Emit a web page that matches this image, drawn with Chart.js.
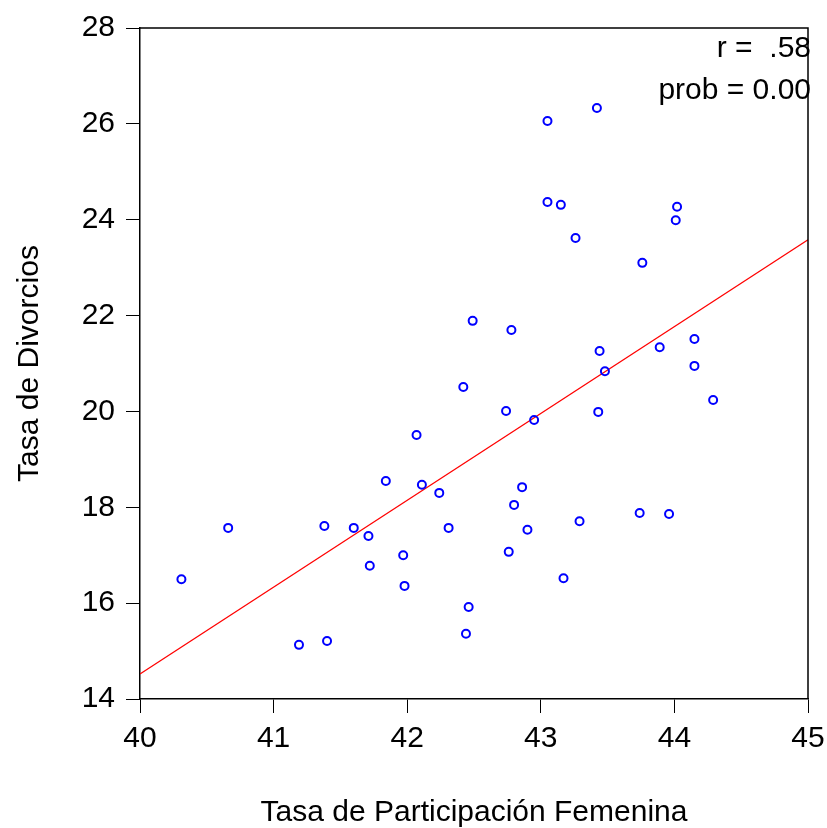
<!DOCTYPE html>
<html>
<head>
<meta charset="utf-8">
<script src="https://cdn.jsdelivr.net/npm/chart.js@4"></script>
<style>
  html, body { margin: 0; padding: 0; background: #fff; }
  #wrap { width: 827px; height: 828px; }
</style>
</head>
<body>
<div id="wrap"><canvas id="scatter" width="827" height="828"></canvas></div>
<script>
// participation rate (x) and divorce rate (y)
const participacion = [
  40.31, 40.66, 41.19, 41.38, 41.40, 41.60, 41.71, 41.72, 41.84, 41.97,
  41.98, 42.07, 42.11, 42.24, 42.31, 42.42, 42.44, 42.46, 42.49, 42.74,
  42.76, 42.78, 42.80, 42.86, 42.90, 42.95, 43.05, 43.05, 43.15, 43.17,
  43.26, 43.29, 43.42, 43.44, 43.43, 43.48, 43.74, 43.76, 43.89, 43.96,
  44.01, 44.02, 44.15, 44.15, 44.29
]
const divorcios = [
  16.50, 17.57, 15.13, 17.61, 15.21, 17.57, 17.40, 16.78, 18.55, 17.00,
  16.36, 19.51, 18.47, 18.30, 17.57, 20.51, 15.36, 15.92, 21.89, 20.01,
  17.07, 21.70, 18.05, 18.42, 17.53, 19.82, 26.06, 24.37, 24.31, 16.52,
  23.62, 17.71, 26.33, 21.26, 19.99, 20.84, 17.88, 23.10, 21.34, 17.86,
  23.99, 24.27, 21.51, 20.95, 20.24
]
// fitted line end points
const ajusteX = [40, 45]
const ajusteY = [14.52, 23.58]

const xTicks = [40, 41, 42, 43, 44, 45]
const yTicks = [14, 16, 18, 20, 22, 24, 26, 28]
const notas = ['r =  .58', 'prob = 0.00']

const FONT = 'Liberation Sans, Arial, sans-serif'

// black frame on top and right + the r / prob notes
const frame = {
  id: 'frame',
  afterDraw(chart) {
    let { ctx, chartArea: a } = chart
    ctx.save()
    ctx.strokeStyle = '#000'
    ctx.lineWidth = 1.5
    ctx.beginPath()
    ctx.moveTo(a.left, a.top)
    ctx.lineTo(a.right, a.top)
    ctx.lineTo(a.right, a.bottom)
    ctx.stroke()
    ctx.fillStyle = '#000'
    ctx.font = '30px ' + FONT
    ctx.textAlign = 'right'
    ctx.textBaseline = 'alphabetic'
    notas.forEach((t, i) => ctx.fillText(t, a.right + 3, a.top + 29 + i * 42))
    ctx.restore()
  }
}

let ctx = document.getElementById('scatter')
let chart = new Chart(ctx, {
  type: 'scatter',
  data: {
    datasets: [
      {
        label: 'Tasa de Divorcios',
        data: participacion.map((x, i) => ({ x: x, y: divorcios[i] })),
        pointStyle: 'circle',
        pointRadius: 4,
        pointBorderWidth: 2,
        pointBorderColor: '#0000ff',
        pointBackgroundColor: 'rgba(0,0,0,0)',
        order: 1
      },
      {
        type: 'line',
        label: 'ajuste',
        data: ajusteX.map((x, i) => ({ x: x, y: ajusteY[i] })),
        borderColor: '#ff0000',
        borderWidth: 1.2,
        pointRadius: 0,
        fill: false,
        order: 2
      }
    ]
  },
  options: {
    responsive: false,
    animation: false,
    events: [],
    layout: { padding: { top: 28, right: 19, bottom: 0, left: 0 } },
    plugins: {
      legend: { display: false },
      tooltip: { enabled: false }
    },
    scales: {
      x: {
        type: 'linear',
        min: 40,
        max: 45,
        afterBuildTicks: (s) => { s.ticks = xTicks.map(v => ({ value: v })) },
        afterFit: (s) => { s.height = 129; s.paddingLeft = 0; s.paddingRight = 0 },
        grid: { drawOnChartArea: false, drawTicks: true, tickLength: 14, color: '#000', lineWidth: 1 },
        border: { display: true, color: '#000', width: 1.5 },
        ticks: { color: '#000', padding: 8, maxRotation: 0, autoSkip: false, font: { family: FONT, size: 30 } },
        title: {
          display: true,
          text: 'Tasa de Participación Femenina',
          color: '#000',
          font: { family: FONT, size: 30 },
          padding: { top: 0, bottom: -3 }
        }
      },
      y: {
        type: 'linear',
        min: 14,
        max: 28,
        afterBuildTicks: (s) => { s.ticks = yTicks.map(v => ({ value: v })) },
        afterFit: (s) => { s.width = 140; s.paddingTop = 0; s.paddingBottom = 0 },
        grid: { drawOnChartArea: false, drawTicks: true, tickLength: 14, color: '#000', lineWidth: 1 },
        border: { display: true, color: '#000', width: 1.5 },
        ticks: { color: '#000', padding: 11, autoSkip: false, font: { family: FONT, size: 30 } },
        title: {
          display: true,
          text: 'Tasa de Divorcios',
          color: '#000',
          font: { family: FONT, size: 30 },
          padding: { top: 12, bottom: 0 }
        }
      }
    }
  },
  plugins: [frame]
})
</script>
</body>
</html>
